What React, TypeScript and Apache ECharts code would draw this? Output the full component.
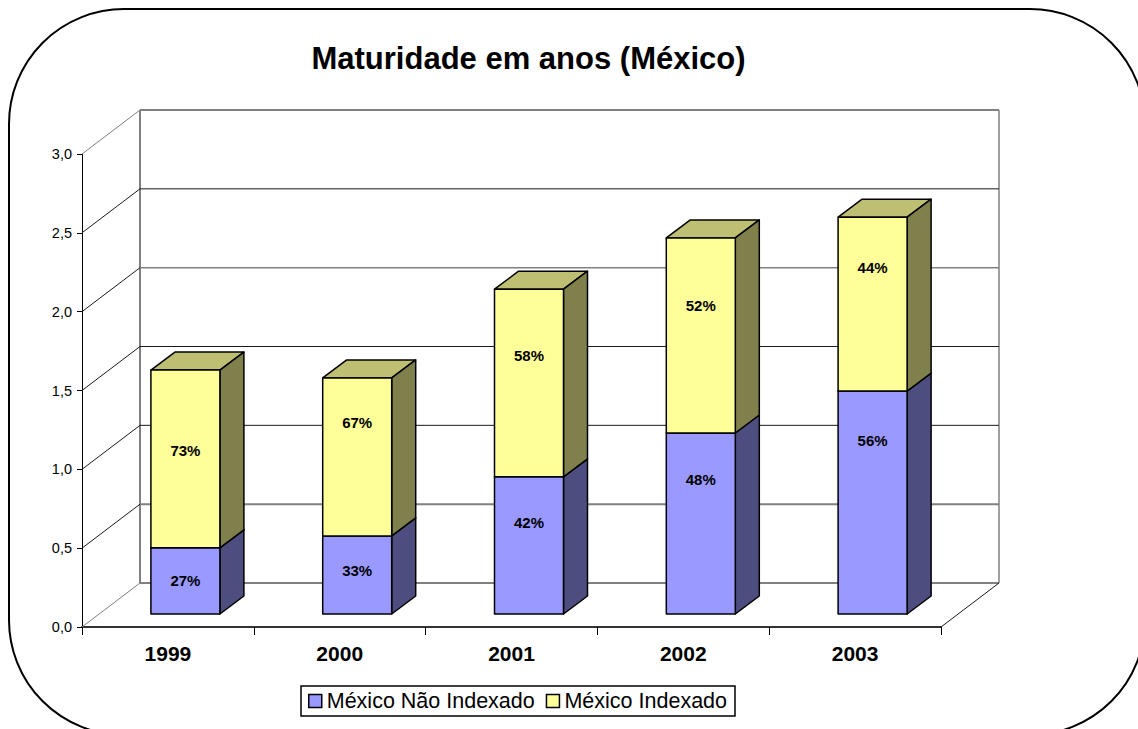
import React, { useEffect, useRef } from "react";
import * as echarts from "echarts";

const titleText = "Maturidade em anos (México)";
const categories = ["1999", "2000", "2001", "2002", "2003"];
const seriesNames = ["México Não Indexado", "México Indexado"];
const naoIndexado = [0.42, 0.495, 0.87, 1.148, 1.414];
const total = [1.547, 1.497, 2.06, 2.385, 2.517];
const naoIndexadoPct = [27, 33, 42, 48, 56];
const indexadoPct = [73, 67, 58, 52, 44];
const naoIndexadoLabelAt = [0.209, 0.273, 0.577, 0.85, 1.097];
const indexadoLabelAt = [1.034, 1.211, 1.636, 1.953, 2.194];
const yTicks = [0, 0.5, 1, 1.5, 2, 2.5, 3];

const FONT = "'Liberation Sans', Arial, sans-serif";
const WALL = { dx: 58, dy: -44 };
const BAR = { shiftX: 17.5, shiftY: -13, width: 69, dx: 24, dy: -18 };
const GRAY = "#808080";
const DARK = "#1a1a1a";
// the grid lines of the reference alternate between a heavier grey and a thin dark stroke
const backStyle = [
  { stroke: GRAY, lineWidth: 2 },
  { stroke: GRAY, lineWidth: 2 },
  { stroke: DARK, lineWidth: 1 },
  { stroke: DARK, lineWidth: 1 },
  { stroke: GRAY, lineWidth: 1.5 },
  { stroke: DARK, lineWidth: 1 },
  { stroke: GRAY, lineWidth: 2 },
];
const sideStyle = [GRAY, DARK, DARK, DARK, DARK, DARK, GRAY];

function line(x1: number, y1: number, x2: number, y2: number, style: any) {
  return { type: "line", shape: { x1, y1, x2, y2 }, style: { fill: "none", ...style } };
}

function renderWall(params: any, api: any) {
  const idx = params.dataIndex;
  const sys = params.coordSys;
  const p = api.coord([0, api.value(0)]);
  const left = sys.x;
  const right = sys.x + sys.width;
  const y = p[1];
  const children: any[] = [
    line(left, y, left + WALL.dx, y + WALL.dy, { stroke: sideStyle[idx], lineWidth: 1 }),
    line(left + WALL.dx, y + WALL.dy, right + WALL.dx, y + WALL.dy, backStyle[idx]),
  ];
  if (idx === 0) {
    children.push(
      line(left + WALL.dx, y + WALL.dy, left + WALL.dx, sys.y + WALL.dy, { stroke: GRAY, lineWidth: 2 }),
      line(right + WALL.dx, y + WALL.dy, right + WALL.dx, sys.y + WALL.dy, { stroke: GRAY, lineWidth: 1.5 }),
      line(right, y, right + WALL.dx, y + WALL.dy, { stroke: DARK, lineWidth: 1 }),
    );
  }
  return { type: "group", children };
}

function makeBarRenderer(front: string, side: string, top: string) {
  return (_params: any, api: any) => {
    const i = api.value(0);
    const cx = api.coord([i, 0])[0] + BAR.shiftX;
    const x0 = cx - BAR.width / 2;
    const x1 = cx + BAR.width / 2;
    const yLow = api.coord([i, api.value(1)])[1] + BAR.shiftY;
    const yHigh = api.coord([i, api.value(2)])[1] + BAR.shiftY;
    const yText = api.coord([i, api.value(4)])[1] + BAR.shiftY;
    const edge = { stroke: "#000", lineWidth: 1.5, lineJoin: "round" };
    const face = (points: number[][], fill: string) => ({
      type: "polygon",
      shape: { points },
      style: { fill, ...edge },
    });
    return {
      type: "group",
      children: [
        face(
          [
            [x0, yHigh],
            [x1, yHigh],
            [x1 + BAR.dx, yHigh + BAR.dy],
            [x0 + BAR.dx, yHigh + BAR.dy],
          ],
          top,
        ),
        face(
          [
            [x1, yLow],
            [x1 + BAR.dx, yLow + BAR.dy],
            [x1 + BAR.dx, yHigh + BAR.dy],
            [x1, yHigh],
          ],
          side,
        ),
        face(
          [
            [x0, yLow],
            [x1, yLow],
            [x1, yHigh],
            [x0, yHigh],
          ],
          front,
        ),
        {
          type: "text",
          style: {
            text: `${api.value(3)}%`,
            x: cx,
            y: yText - 0.5,
            fill: "#000",
            fontFamily: FONT,
            fontSize: 15,
            fontWeight: "bold",
            align: "center",
            verticalAlign: "middle",
          },
        },
      ],
    };
  };
}

export default function App() {
  const ref = useRef<HTMLDivElement>(null);
  useEffect(() => {
    const chart = echarts.init(ref.current!, null, { renderer: "svg" });
    chart.setOption({
      animation: false,
      backgroundColor: "#fff",
      textStyle: { fontFamily: FONT },
      title: {
        text: titleText,
        left: 523.5,
        top: 38,
        textAlign: "center",
        textStyle: { fontFamily: FONT, fontSize: 31, fontWeight: "bold", color: "#000" },
      },
      legend: {
        data: seriesNames,
        left: 301,
        top: 686,
        orient: "horizontal",
        icon: "rect",
        itemWidth: 13,
        itemHeight: 13,
        itemGap: 11,
        padding: [4, 8, 4, 7],
        backgroundColor: "#fff",
        borderColor: "#000",
        borderWidth: 1.5,
        selectedMode: false,
        itemStyle: { borderColor: "#000", borderWidth: 1.5 },
        textStyle: { fontFamily: FONT, fontSize: 21.5, color: "#000" },
      },
      grid: { left: 82, top: 154, width: 859, height: 473 },
      xAxis: {
        type: "category",
        data: categories,
        axisLine: { lineStyle: { color: "#333", width: 2 } },
        axisTick: { show: true, alignWithLabel: false, length: 8, lineStyle: { color: "#000", width: 1 } },
        axisLabel: {
          fontFamily: FONT,
          fontSize: 21,
          fontWeight: "bold",
          color: "#000",
          margin: 16,
        },
        splitLine: { show: false },
      },
      yAxis: {
        type: "value",
        min: 0,
        max: 3,
        interval: 0.5,
        axisLine: { show: true, lineStyle: { color: "#000", width: 1 } },
        axisTick: { show: true, length: 5, lineStyle: { color: "#000", width: 1 } },
        axisLabel: {
          fontFamily: FONT,
          fontSize: 14.5,
          color: "#000",
          margin: 10,
          formatter: (v: number) => v.toFixed(1).replace(".", ","),
        },
        splitLine: { show: false },
      },
      graphic: [
        {
          type: "rect",
          z: -1,
          silent: true,
          shape: { x: 9, y: 9, width: 1136, height: 726, r: 115 },
          style: { fill: "none", stroke: "#000", lineWidth: 2 },
        },
      ],
      series: [
        {
          type: "custom",
          name: "paredes",
          z: 1,
          silent: true,
          renderItem: renderWall,
          data: yTicks.map((v) => [v]),
        },
        {
          type: "custom",
          name: seriesNames[0],
          z: 2,
          silent: true,
          itemStyle: { color: "#9999FF" },
          renderItem: makeBarRenderer("#9999FF", "#4D4D80", "#4D4D80"),
          data: categories.map((_, i) => [i, 0, naoIndexado[i], naoIndexadoPct[i], naoIndexadoLabelAt[i]]),
        },
        {
          type: "custom",
          name: seriesNames[1],
          z: 3,
          silent: true,
          itemStyle: { color: "#FFFF99" },
          renderItem: makeBarRenderer("#FFFF99", "#80804D", "#BFBF73"),
          data: categories.map((_, i) => [i, naoIndexado[i], total[i], indexadoPct[i], indexadoLabelAt[i]]),
        },
      ],
    });
    return () => chart.dispose();
  }, []);
  return (
    <div
      ref={ref}
      style={{ position: "fixed", left: 0, top: 0, width: 1138, height: 729, overflow: "hidden" }}
    />
  );
}
